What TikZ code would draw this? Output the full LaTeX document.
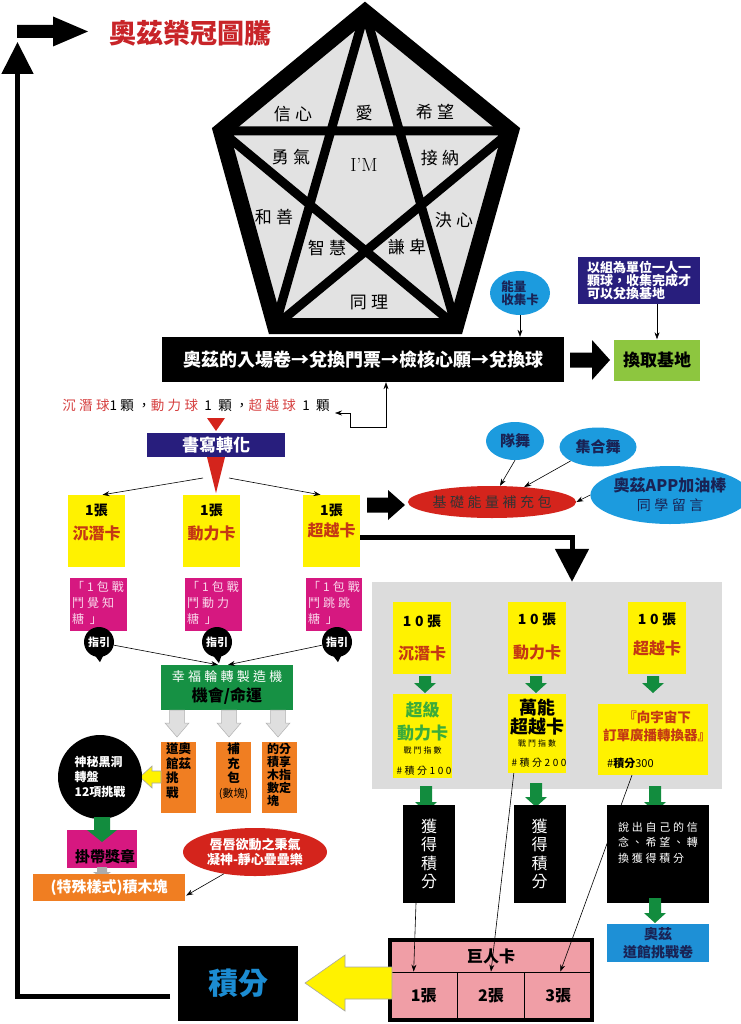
\documentclass[tikz,border=0pt]{standalone}
\usepackage{fontspec}
\usetikzlibrary{arrows.meta,calc,shapes.geometric}
\newfontfamily\cjk{Noto Sans CJK TC}
\newfontfamily\cjkw[LetterSpace=25]{Noto Sans CJK TC}

\definecolor{ozred}{RGB}{200,36,40}
\definecolor{ballred}{RGB}{214,64,64}
\definecolor{cardyellow}{RGB}{255,242,0}
\definecolor{cardred}{RGB}{196,56,20}
\definecolor{candy}{RGB}{214,24,128}
\definecolor{candytxt}{RGB}{250,215,235}
\definecolor{navy}{RGB}{40,30,125}
\definecolor{skyblue}{RGB}{28,155,222}
\definecolor{inkblue}{RGB}{25,35,85}
\definecolor{fire}{RGB}{212,36,28}
\definecolor{machine}{RGB}{22,145,68}
\definecolor{arrgreen}{RGB}{18,140,62}
\definecolor{brick}{RGB}{240,126,34}
\definecolor{lime}{RGB}{141,198,63}
\definecolor{giant}{RGB}{240,158,166}
\definecolor{panel}{RGB}{220,220,220}
\definecolor{stone}{RGB}{226,226,226}
\definecolor{supergreen}{RGB}{60,172,58}
\definecolor{ticketblue}{RGB}{30,144,214}
\definecolor{scoreblue}{RGB}{28,140,210}

\def\blockdown[#1](#2:#3:#4:#5:#6:#7){\path[#1] (#2-#5,#3) -- (#2+#5,#3) -- (#2+#5,#4-#7) -- (#2+#6,#4-#7) -- (#2,#4) -- (#2-#6,#4-#7) -- (#2-#5,#4-#7) -- cycle;}
\def\blockright[#1](#2:#3:#4:#5:#6:#7){\path[#1] (#2,#4-#5) -- (#3-#7,#4-#5) -- (#3-#7,#4-#6) -- (#3,#4) -- (#3-#7,#4+#6) -- (#3-#7,#4+#5) -- (#2,#4+#5) -- cycle;}
\def\blockleft[#1](#2:#3:#4:#5:#6:#7){\path[#1] (#2,#4-#5) -- (#3+#7,#4-#5) -- (#3+#7,#4-#6) -- (#3,#4) -- (#3+#7,#4+#6) -- (#3+#7,#4+#5) -- (#2,#4+#5) -- cycle;}

\tikzset{
	lbl/.style={inner sep=0pt, align=center},
	pentword/.style={lbl, font=\cjkw\fontsize{17}{17}\selectfont},
	thinarr/.style={line width=0.6pt, -{Stealth[length=7pt,width=5pt]}},
	thinboth/.style={line width=0.6pt, {Stealth[length=7pt,width=5pt]}-{Stealth[length=7pt,width=5pt]}},
	ycard/.style={fill=cardyellow, inner sep=0pt},
	cnum/.style={lbl, font=\cjkw\bfseries\fontsize{14}{14}\selectfont},
	cone/.style={lbl, font=\cjk\bfseries\fontsize{14}{14}\selectfont},
	cname/.style={lbl, text=cardred, font=\cjk\bfseries\fontsize{16}{16}\selectfont},
	candybox/.style={fill=candy, inner sep=0pt},
	candytext/.style={lbl, align=left, text=candytxt, font=\cjkw\fontsize{12}{16}\selectfont},
	guide/.style={circle, fill=black, minimum size=30pt, inner sep=0pt, text=white, font=\cjk\bfseries\fontsize{11}{11}\selectfont},
	brickbox/.style={fill=brick, inner sep=0pt},
	bricktext/.style={lbl, align=left, font=\cjk\bfseries\fontsize{12.5}{14.5}\selectfont},
	blackbox/.style={fill=black, inner sep=0pt},
	blueoval/.style={ellipse, fill=skyblue, inner sep=0pt, text=inkblue},
	redoval/.style={ellipse, fill=fire, inner sep=0pt},
	tinytext/.style={lbl, font=\cjkw\fontsize{8}{8}\selectfont},
	scoretext/.style={lbl, font=\cjkw\fontsize{10}{10}\selectfont},
	giantcell/.style={fill=giant, draw=black, line width=0.8pt, inner sep=0pt, font=\cjk\bfseries\fontsize{16}{16}\selectfont},
	greenarr/.style={fill=arrgreen},
	grayarr/.style={fill=gray!25, draw=gray!60, line width=0.5pt},
	darkarr/.style={fill=gray!65},
	yellowarr/.style={fill=cardyellow, draw=gray!70, line width=0.6pt},
	loopline/.style={line width=5pt, -{Triangle[width=31pt,length=32pt]}}
}

\begin{document}
\begin{tikzpicture}[x=1pt,y=-1pt]
		%%%%% START %%%%%
		\fill[white] (0,0) rectangle (740,1024);
		\useasboundingbox (0,0) rectangle (740,1024);
		
		% crown title and the loop back to it
		\node[lbl, text=ozred, font=\cjk\bfseries\fontsize{27}{27}\selectfont] (title) at (190,33) {奧茲榮冠圖騰};
		\blockright[fill=black](17:88:31.5:6.5:15:35)
		
		% pentagram
		\coordinate (pT) at (365,12);
		\coordinate (pL) at (221,131);
		\coordinate (pR) at (511,131);
		\coordinate (pBL) at (275,326);
		\coordinate (pBR) at (456,326);
		\fill[stone] (pT) -- (pR) -- (pBR) -- (pBL) -- (pL) -- cycle;
		\draw[line width=9pt] (pT) -- (pBL) (pT) -- (pBR) (pL) -- (pR) (pL) -- (pBR) (pR) -- (pBL);
		\draw[line width=16pt, line join=miter] (pT) -- (pR) -- (pBR) -- (pBL) -- (pL) -- cycle;
		
		\node[pentword] (faith) at (293,114) {信心};
		\node[pentword] (love) at (364,113) {愛};
		\node[pentword] (hope) at (435,112) {希望};
		\node[pentword] (courage) at (291,157) {勇氣};
		\node[lbl, font=\fontsize{19}{19}\selectfont] (iam) at (364,165) {I’M};
		\node[pentword] (accept) at (440,158) {接納};
		\node[pentword] (kind) at (274,217) {和善};
		\node[pentword] (resolve) at (454,220) {決心};
		\node[pentword] (wisdom) at (327,248) {智慧};
		\node[pentword] (humble) at (407,247) {謙卑};
		\node[pentword] (empathy) at (369,302) {同理};
		
		% entry bar
		\node[blackbox, minimum width=402pt, minimum height=45pt, text=white, font=\cjk\bfseries\fontsize{18}{18}\selectfont] (entry) at (363,359.5) {奧茲的入場卷→兌換門票→檢核心願→兌換球};
		\node[fill=lime, inner sep=0pt, minimum width=86pt, minimum height=41pt, font=\cjk\bfseries\fontsize{17}{17}\selectfont] (base) at (657,360) {換取基地};
		\blockright[fill=black](570:610:360:7.5:20:18)
		
		\node[blueoval, minimum width=60pt, minimum height=44pt, align=left, font=\cjk\bfseries\fontsize{12.5}{13}\selectfont] (energy) at (520,293) {能量\\收集卡};
		\draw[thinarr] (energy.south) -- (energy.south |- entry.north);
		\node[fill=navy, inner sep=0pt, minimum width=122pt, minimum height=47pt, text=white, align=left, font=\cjk\bfseries\fontsize{13}{13}\selectfont] (rule) at (639,280.5) {以組為單位一人一\\顆球，收集完成才\\可以兌換基地};
		\draw[thinarr] (base.north |- rule.south) -- (base.north);
		
		% balls
		\node[lbl, font=\cjkw\fontsize{13.5}{13.5}\selectfont] (balls) at (196,405) {\textcolor{ballred}{沉潛球}1顆，\textcolor{ballred}{動力球} 1 顆，\textcolor{ballred}{超越球} 1 顆};
		\coordinate (ballend) at (335,413);
		\coordinate (bk) at (386,427);
		\draw[thinboth] (ballend) -- (350,413) |- (bk) -- (bk |- entry.south);
		\fill[fire] (207,418) -- (225,418) -- (216,431) -- cycle;
		
		\node[fill=navy, inner sep=0pt, minimum width=138pt, minimum height=24pt, text=white, font=\cjk\bfseries\fontsize{17}{17}\selectfont] (write) at (216,445) {書寫轉化};
		\fill[fire] ($(write.south)+(-9,0)$) -- ($(write.south)+(9,0)$) -- ($(write.south)+(0,36)$) -- cycle;
		
		% one card each
		\node[ycard, minimum width=57pt, minimum height=72pt] (cq1) at (96.5,531) {};
		\node[cone] (cq1n) at (96.5,510) {1張};
		\node[cname] (cq1t) at (96.5,533) {沉潛卡};
		\node[ycard, minimum width=57pt, minimum height=72pt] (dl1) at (211.5,531) {};
		\node[cone] (dl1n) at (211.5,510) {1張};
		\node[cname] (dl1t) at (211.5,533) {動力卡};
		\node[ycard, minimum width=57pt, minimum height=72pt] (cy1) at (331.5,531) {};
		\node[cone] (cy1n) at (331.5,510) {1張};
		\node[cname] (cy1t) at (331.5,530) {超越卡};
		
		\coordinate (wl) at (203,478);
		\coordinate (wr) at (229,478);
		\draw[thinarr] (wl) -- ($(cq1.north)+(6,0)$);
		\draw[thinarr] (wr) -- ($(cy1.north)+(-11,0)$);
		
		% energy pack
		\blockright[fill=black](367:405:505:7.5:15:17)
		\node[redoval, minimum width=140pt, minimum height=32pt, text=black!80, font=\cjkw\fontsize{14}{14}\selectfont] (basic) at (492,502) {基礎能量補充包};
		\node[blueoval, minimum width=58pt, minimum height=38pt, font=\cjk\bfseries\fontsize{15}{15}\selectfont] (team) at (515,441) {隊舞};
		\node[blueoval, minimum width=77pt, minimum height=39pt, font=\cjk\bfseries\fontsize{15}{15}\selectfont] (group) at (598,447) {集合舞};
		\node[blueoval, minimum width=140pt, minimum height=58pt, align=center] (app) at (670,495) {{\cjk\bfseries\fontsize{16}{16}\selectfont 奧茲APP加油棒}\\[5pt]{\cjkw\fontsize{14}{14}\selectfont 同學留言}};
		\draw[thinarr] (team.south) -- ($(basic.north)+(8,0)$);
		\draw[thinarr] (group.south west) -- (basic.25);
		\draw[thinarr] (app.west) -- (basic.east);
		
		% candy
		\node[candybox, minimum width=57pt, minimum height=53pt] (cq2) at (98.5,604.5) {};
		\node[candytext, anchor=north west] (cq2t) at (72,581) {「1包戰\\鬥覺知\\糖 」};
		\node[candybox, minimum width=57pt, minimum height=53pt] (dl2) at (213.5,604.5) {};
		\node[candytext, anchor=north west] (dl2t) at (187,581) {「1包戰\\鬥動力\\糖 」};
		\node[candybox, minimum width=56pt, minimum height=53pt] (cy2) at (334,604.5) {};
		\node[candytext, anchor=north west] (cy2t) at (308,581) {「1包戰\\鬥跳跳\\糖 」};
		
		\node[guide] (g1) at (99,642) {指引};
		\node[guide] (g2) at (217,642) {指引};
		\node[guide] (g3) at (337,642) {指引};
		\fill ($(g1.south)+(-5,-3)$) -- ($(g1.south)+(5,-3)$) -- ($(g1.south)+(1,5)$) -- cycle;
		\fill ($(g2.south)+(-5,-3)$) -- ($(g2.south)+(5,-3)$) -- ($(g2.south)+(2,6)$) -- cycle;
		\fill ($(g3.south)+(-5,-3)$) -- ($(g3.south)+(5,-3)$) -- ($(g3.south)+(1,5)$) -- cycle;
		
		% machine
		\node[fill=machine, inner sep=0pt, minimum width=132pt, minimum height=45pt, align=center] (lucky) at (227,687.5) {{\cjkw\fontsize{13}{13}\selectfont\color{white}幸福輪轉製造機}\\[4pt]{\cjk\bfseries\fontsize{16}{16}\selectfont 機會/命運}};
		\draw[thinarr] (g1.-12) -- ($(lucky.north)+(-9,0)$);
		\draw[thinarr] (g3.192) -- ($(lucky.north)+(1,0)$);
		
		\blockdown[grayarr](177:710:737:7.5:12:14)
		\blockdown[grayarr](229:710:737:7.5:12:14)
		\blockdown[grayarr](278:710:737:7.5:12:14)
		
		\node[brickbox, minimum width=35pt, minimum height=71pt] (dojo) at (178.5,777.5) {};
		\node[bricktext, anchor=north west] (dojot) at (166,743) {道奧\\館茲\\挑\\戰};
		\node[brickbox, minimum width=35pt, minimum height=71pt] (refill) at (233.5,777.5) {};
		\node[bricktext, anchor=north, align=center] (refillt) at (233.5,743) {補\\充\\包\\{\mdseries\fontsize{11}{14.5}\selectfont (數塊)}};
		\node[brickbox, minimum width=35pt, minimum height=71pt] (blocks) at (279.5,777.5) {};
		\node[bricktext, anchor=north west, font=\cjk\bfseries\fontsize{12}{13}\selectfont] (blockst) at (267,743) {的分\\積享\\木指\\數定\\塊};
		
		% black hole
		\blockleft[yellowarr](161:140:777:6:11:12)
		\node[circle, fill=black, minimum size=84pt, inner sep=0pt, text=white, align=left, font=\cjk\bfseries\fontsize{12}{15}\selectfont] (hole) at (100,777) {神秘黑洞\\轉盤\\12項挑戰};
		\node[candybox, minimum width=70pt, minimum height=38pt] (medal) at (102,849) {};
		\node[lbl, font=\cjk\bfseries\fontsize{15}{15}\selectfont] (medalt) at (105,857) {掛帶獎章};
		\blockdown[greenarr](102:817:842:8:15:12)
		\blockdown[darkarr](102:867:878:5:9:6)
		\node[brickbox, minimum width=152pt, minimum height=27pt, text=white, font=\cjk\bfseries\fontsize{15}{15}\selectfont] (special) at (109,887.5) {(特殊樣式)積木塊};
		
		\node[redoval, minimum width=144pt, minimum height=48pt, text=white, align=center, font=\cjk\bfseries\fontsize{13}{15}\selectfont] (lips) at (255,852) {唇唇欲動之秉氣\\凝神-靜心疊疊樂};
		\draw[thinarr] (lips.215) -- ($(special.east)+(1,8)$);
		
		% ten cards
		\node[fill=panel, inner sep=0pt, minimum width=350pt, minimum height=207pt] (panel) at (547,685.5) {};
		\coordinate (turn) at (572,537);
		\draw[line width=5pt, -{Triangle[width=33pt,length=33pt]}] (cy1.east |- turn) -- (turn) -- (turn |- panel.north);
		
		\node[ycard, minimum width=58pt, minimum height=72pt] (cq10) at (422,638) {};
		\node[cnum] (cq10n) at (422,621) {10張};
		\node[cname] (cq10t) at (422,653) {沉潛卡};
		\node[ycard, minimum width=58pt, minimum height=72pt] (dl10) at (537,638) {};
		\node[cnum] (dl10n) at (537,619) {10張};
		\node[cname] (dl10t) at (537,652) {動力卡};
		\node[ycard, minimum width=58pt, minimum height=72pt] (cy10) at (657,638) {};
		\node[cnum] (cy10n) at (657,619) {10張};
		\node[cname] (cy10t) at (657,648) {超越卡};
		
		\blockdown[greenarr](425:676:693:6:11:10)
		\blockdown[greenarr](536:676:693:6:11:10)
		\blockdown[greenarr](653:676:693:6:11:10)
		
		\node[ycard, minimum width=59pt, minimum height=84pt] (super) at (422.5,736) {};
		\node[lbl, text=supergreen, font=\cjk\bfseries\fontsize{17}{23}\selectfont] (supert) at (422.5,721.5) {超級\\動力卡};
		\node[tinytext] (superi) at (422.5,750) {戰鬥指數};
		\node[scoretext] (supers) at (424,771) {\#積分100};
		
		\node[ycard, minimum width=58pt, minimum height=79pt] (wan) at (537,733.5) {};
		\node[lbl, font=\cjk\bfseries\fontsize{18}{19}\selectfont] (want) at (537,717.5) {萬能\\超越卡};
		\node[tinytext] (wani) at (537,743) {戰鬥指數};
		\node[scoretext] (wans) at (539,763) {\#積分200};
		
		\node[ycard, minimum width=110pt, minimum height=71pt] (cosmos) at (653,739.5) {};
		\node[lbl, text=cardred, font=\cjk\bfseries\fontsize{13.5}{18}\selectfont] (cosmost) at (657,726) {『向宇宙下\\訂單廣播轉換器』};
		\node[lbl, anchor=west, font=\cjk\fontsize{11}{11}\selectfont] (cosmoss) at (607,763) {\#\textbf{積分}300};
		
		% points
		\blockdown[greenarr](426:786:812:6:11:10)
		\blockdown[greenarr](536:783:807:6:11:10)
		\blockdown[greenarr](655:786:812:6:11:10)
		\node[blackbox, minimum width=52pt, minimum height=98pt, text=white, align=center, font=\cjk\fontsize{16}{18.5}\selectfont] (get1) at (429,854) {獲\\得\\積\\分};
		\node[blackbox, minimum width=52pt, minimum height=98pt, text=white, align=center, font=\cjk\fontsize{16}{18.5}\selectfont] (get2) at (539.5,854) {獲\\得\\積\\分};
		\node[blackbox, minimum width=102pt, minimum height=98pt] (speak) at (658,854) {};
		\node[lbl, anchor=north west, text=white, align=left, font=\cjkw\fontsize{11}{15.5}\selectfont] (speakt) at (618,822) {說出自己的信\\念、希望、轉\\換獲得積分};
		
		\node[fill=ticketblue, inner sep=0pt, minimum width=102pt, minimum height=38pt, text=inkblue, align=center, font=\cjk\bfseries\fontsize{14}{18}\selectfont] (ticket) at (658,943) {奧茲\\道館挑戰卷};
		\blockdown[greenarr](655:898:923:6:11:10)
		
		% giant card
		\node[giantcell, minimum width=202pt, minimum height=32pt] (giant) at (491,956) {巨人卡};
		\node[giantcell, minimum width=67.33pt, minimum height=48pt] (gc1) at (423.67,996) {1張};
		\node[giantcell, minimum width=67.33pt, minimum height=48pt] (gc2) at (491,996) {2張};
		\node[giantcell, minimum width=67.33pt, minimum height=48pt] (gc3) at (558.33,996) {3張};
		\draw[line width=4pt] (giant.north west) rectangle (gc3.south east);
		
		\draw[thinarr] ($(get1.south)+(-13,0)$) -- ($(gc1.north)+(-10,0)$);
		\draw[thinarr] ($(wan.south west)+(6,0)$) -- (gc2.north);
		\draw[thinarr] ($(cosmos.south)+(-21,0)$) -- ($(gc3.north)+(2,0)$);
		
		\node[blackbox, minimum width=120pt, minimum height=75pt, text=scoreblue, font=\cjk\bfseries\fontsize{30}{30}\selectfont] (score) at (238,983) {積分};
		\blockleft[yellowarr](392:305:983:16:28:40)
		
		\coordinate (loopstart) at (170,996);
		\coordinate (loopcorner) at (17.5,996);
		\coordinate (looptop) at (17.5,42);
		\draw[loopline] (loopstart) -- (loopcorner) -- (looptop);
		
		%%%%% END %%%%%
\end{tikzpicture}
\end{document}
